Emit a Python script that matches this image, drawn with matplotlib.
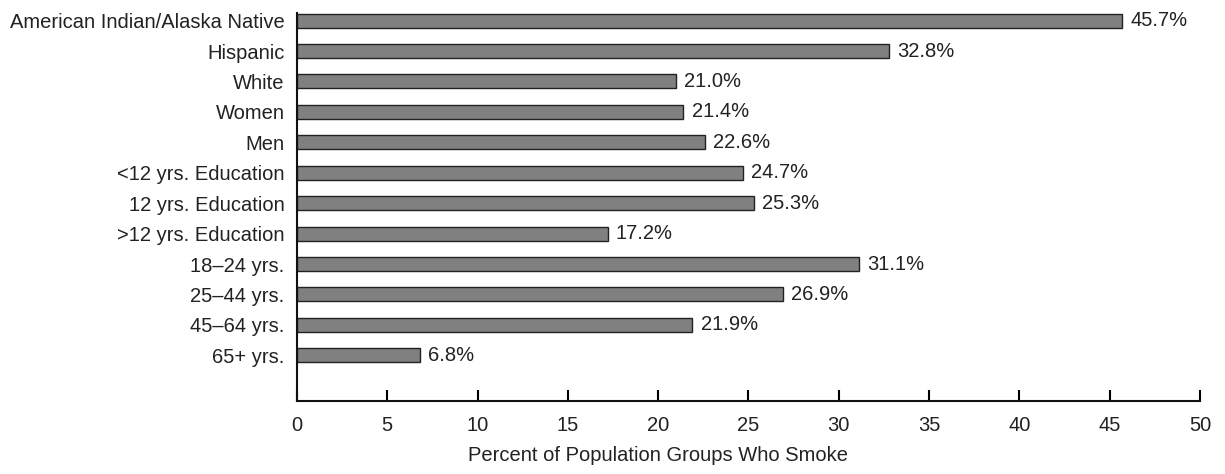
import matplotlib.pyplot as plt

plt.rcParams['font.family'] = ['Liberation Sans', 'DejaVu Sans']

groups = ["American Indian/Alaska Native", "Hispanic", "White", "Women", "Men",
          "<12 yrs. Education", "12 yrs. Education", ">12 yrs. Education",
          "18\u201324 yrs.", "25\u201344 yrs.", "45\u201364 yrs.", "65+ yrs."]
percent = [45.7, 32.8, 21.0, 21.4, 22.6, 24.7, 25.3, 17.2, 31.1, 26.9, 21.9, 6.8]
xticks = [0, 5, 10, 15, 20, 25, 30, 35, 40, 45, 50]

fig = plt.figure(figsize=(12.25, 4.74), dpi=100)
ax = fig.add_axes([0.2424, 0.154, 0.7372, 0.8186])

ypos = list(range(len(groups)))
ax.barh(ypos, percent, height=0.46, color="#808080", edgecolor="#222222", linewidth=1)
for y, v in zip(ypos, percent):
    ax.text(v + 0.45, y, f"{v:.1f}%", va="center", ha="left", fontsize=14.5, color="#222222")

ax.set_yticks(ypos)
ax.set_yticklabels(groups, fontsize=14.5, color="#222222")
ax.tick_params(axis="y", length=0, pad=9)
ax.set_xticks(xticks)
ax.set_xticklabels([str(t) for t in xticks], fontsize=14.5, color="#222222")
ax.tick_params(axis="x", direction="in", length=8, width=1.5, pad=11)
ax.set_xlim(0, 50)
ax.set_ylim(12.5, -0.25)

for s in ["top", "right"]:
    ax.spines[s].set_visible(False)
for s in ["left", "bottom"]:
    ax.spines[s].set_linewidth(1.5)
    ax.spines[s].set_color("#111111")

# the label sits left of the axis centre in the original
ax.set_xlabel("Percent of Population Groups Who Smoke", fontsize=14.5, color="#222222",
              labelpad=8, x=0.4)

fig.savefig("out.png", dpi=100)
